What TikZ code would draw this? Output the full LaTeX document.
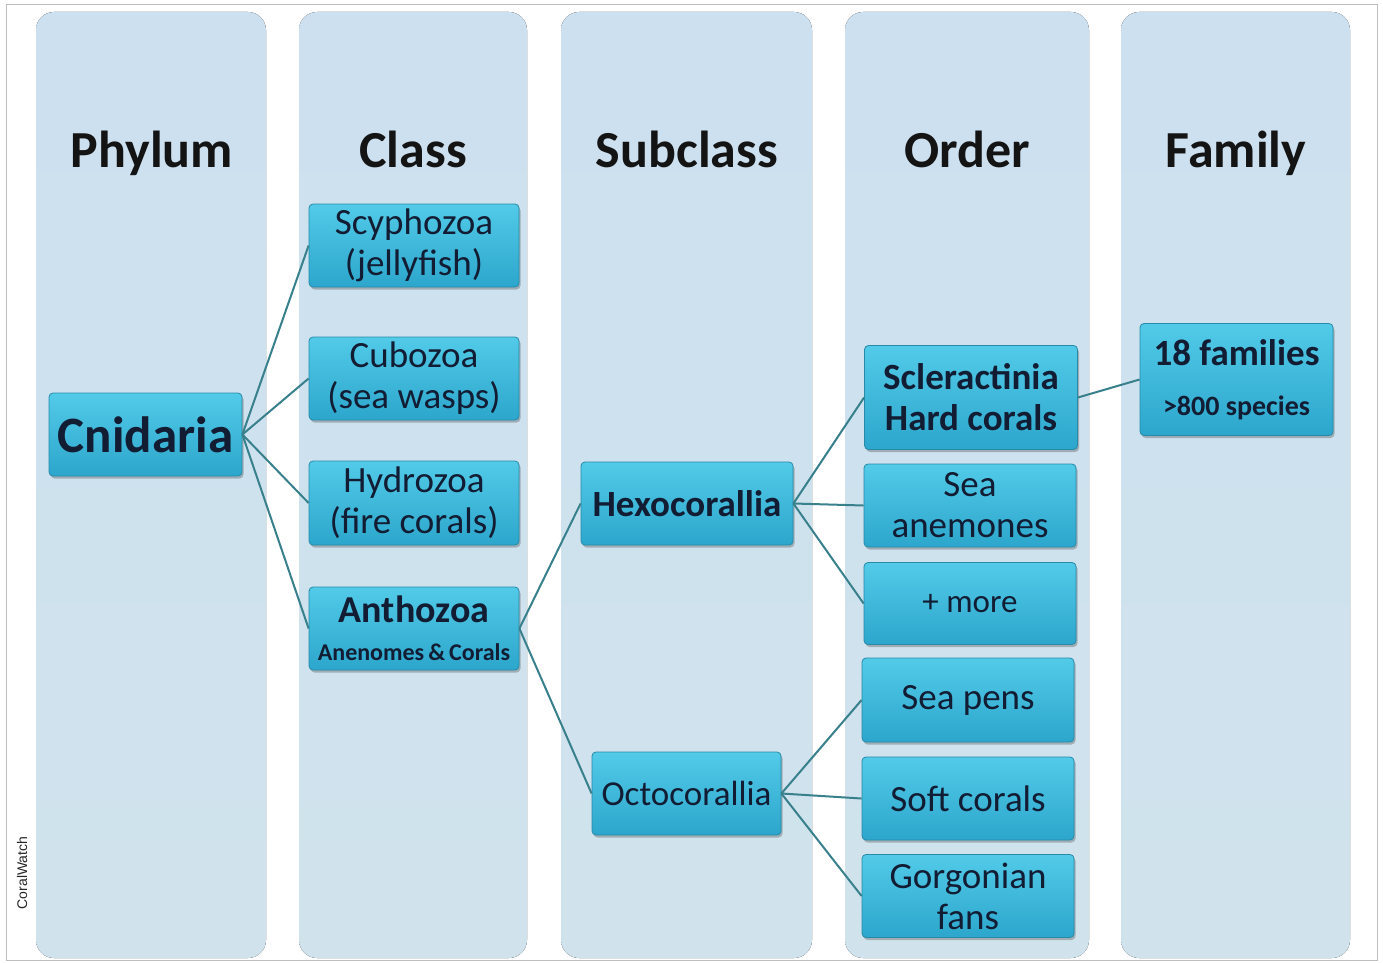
\documentclass[tikz,border=0pt]{standalone}
\usepackage{fontspec}
\setmainfont{Carlito}
\newfontfamily\arialfont{Liberation Sans}
\usetikzlibrary{shadows}
\definecolor{colbg}{RGB}{208,227,237}
\definecolor{colbgtop}{RGB}{204,224,239}
\definecolor{nodetop}{RGB}{82,202,232}
\definecolor{nodebot}{RGB}{44,166,204}
\definecolor{nodeedge}{RGB}{38,138,168}
\definecolor{txt}{RGB}{18,28,50}
\definecolor{linkcol}{RGB}{55,128,140}
\definecolor{framecol}{RGB}{190,190,190}
\begin{document}
\begin{tikzpicture}[x=1pt,y=-1pt,
  colbox/.style={rounded corners=18pt, top color=colbgtop, bottom color=colbg, draw=none},
  taxbox/.style={rectangle, rounded corners=4pt, draw=nodeedge, line width=0.8pt,
    top color=nodetop, bottom color=nodebot, text=txt, align=center, inner sep=0pt,
    drop shadow={shadow xshift=1.5pt, shadow yshift=-2.5pt, opacity=0.35, fill=black!70}},
  regtext/.style={font=\fontsize{37}{41}\selectfont},
  boldtext/.style={font=\bfseries\fontsize{37}{41}\selectfont},
  header/.style={font=\bfseries\fontsize{52}{60}\selectfont, text=black!92, anchor=base},
  link/.style={draw=linkcol, line width=2pt}]
\useasboundingbox (0,0) rectangle (1383,963);
\fill[white] (0,0) rectangle (1383,963);
\draw[framecol, line width=1pt] (6,5) rectangle (1377,960);

% columns
\fill[colbox] (36,12) rectangle (266,958);
\fill[colbox] (299,12) rectangle (527,958);
\fill[colbox] (561,12) rectangle (812,958);
\fill[colbox] (845,12) rectangle (1089,958);
\fill[colbox] (1121,12) rectangle (1350,958);

% headers
\node[header] (hphy) at (152,167) {Phylum};
\node[header] (hcla) at (413,167) {Class};
\node[header] (hsub) at (687,167) {Subclass};
\node[header] (hord) at (967,167) {Order};
\node[header] (hfam) at (1236,167) {Family};

% nodes
\node[taxbox, minimum width=193pt, minimum height=83pt, font=\bfseries\fontsize{51}{56}\selectfont] (cni) at (145.5,434.5) {Cnidaria};

\node[taxbox, regtext, minimum width=210pt, minimum height=83pt] (scy) at (414,245.5) {Scyphozoa\\(jellyfish)};
\node[taxbox, regtext, minimum width=210pt, minimum height=83pt] (cub) at (414,378.5) {Cubozoa\\(sea wasps)};
\node[taxbox, regtext, minimum width=210pt, minimum height=84pt] (hyd) at (414,503) {Hydrozoa\\(fire corals)};
\node[taxbox, minimum width=210pt, minimum height=83pt, font=\bfseries\fontsize{38}{38}\selectfont] (ant) at (414,628.5)
  {Anthozoa\\{\fontsize{24}{26}\selectfont Anenomes\,\&\,Corals}};

\node[taxbox, boldtext, minimum width=212pt, minimum height=83pt] (hex) at (687,503.5) {Hexocorallia};
\node[taxbox, minimum width=189pt, minimum height=83pt, font=\fontsize{35}{40}\selectfont] (oct) at (686.5,793.5) {Octocorallia};

\node[taxbox, boldtext, minimum width=213pt, minimum height=104pt] (scl) at (971,397.5) {Scleractinia\\Hard corals};
\node[taxbox, regtext, minimum width=212pt, minimum height=83pt] (sea) at (970,505.5) {Sea\\anemones};
\node[taxbox, minimum width=212pt, minimum height=82pt, font=\fontsize{33}{40}\selectfont] (more) at (970,603.5) {+ more};
\node[taxbox, regtext, minimum width=212pt, minimum height=84pt] (pens) at (968,700) {Sea pens};
\node[taxbox, regtext, minimum width=212pt, minimum height=83pt] (soft) at (968,798.5) {Soft corals};
\node[taxbox, regtext, minimum width=212pt, minimum height=83pt] (gor) at (968,896) {Gorgonian\\fans};

\node[taxbox, minimum width=193pt, minimum height=112pt, font=\bfseries\fontsize{37}{50}\selectfont] (fam) at (1236.5,379.5)
  {18 families\\{\fontsize{28}{30}\selectfont >800 species}};

% connectors
\draw[link] (cni.east) -- (scy.west);
\draw[link] (cni.east) -- (cub.west);
\draw[link] (cni.east) -- (hyd.west);
\draw[link] (cni.east) -- (ant.west);
\draw[link] (ant.east) -- (hex.west);
\draw[link] (ant.east) -- (oct.west);
\draw[link] (hex.east) -- (scl.west);
\draw[link] (hex.east) -- (sea.west);
\draw[link] (hex.east) -- (more.west);
\draw[link] (oct.east) -- (pens.west);
\draw[link] (oct.east) -- (soft.west);
\draw[link] (oct.east) -- (gor.west);
\draw[link] (scl.east) -- (fam.west);

% credit
\node[rotate=90, font=\arialfont\fontsize{14}{16}\selectfont, text=black!85] (cw) at (22,873) {CoralWatch};
\end{tikzpicture}
\end{document}
